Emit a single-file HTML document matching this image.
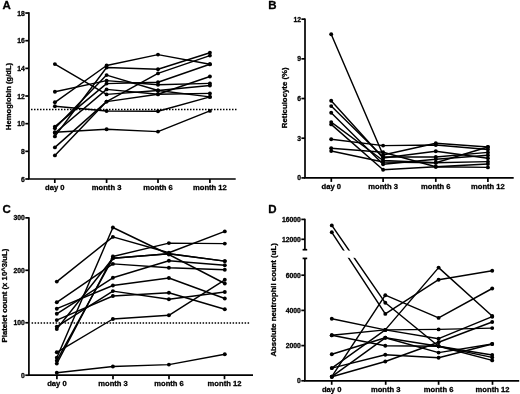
<!DOCTYPE html>
<html><head><meta charset="utf-8"><style>
html,body{margin:0;padding:0;background:#fff;}
svg{display:block;will-change:transform;}
text{font-family:"Liberation Sans",sans-serif;font-weight:bold;fill:#000;}
</style></head><body>
<svg width="520" height="394" viewBox="0 0 520 394" stroke="#000">
<g stroke="#000" fill="none">
<text stroke="#000" stroke-width="0.3" stroke-linejoin="round" x="2.60" y="9.20" text-anchor="start" font-size="11.5" >A</text>
<line x1="28.90" y1="12.20" x2="28.90" y2="179.00" stroke-width="1.7" />
<line x1="28.05" y1="179.00" x2="235.70" y2="179.00" stroke-width="1.7" />
<line x1="54.80" y1="179.00" x2="54.80" y2="183.00" stroke-width="1.7" />
<text stroke="#000" stroke-width="0.3" stroke-linejoin="round" x="54.80" y="190.00" text-anchor="middle" font-size="7.6" >day 0</text>
<line x1="106.60" y1="179.00" x2="106.60" y2="183.00" stroke-width="1.7" />
<text stroke="#000" stroke-width="0.3" stroke-linejoin="round" x="106.60" y="190.00" text-anchor="middle" font-size="7.6" >month 3</text>
<line x1="158.00" y1="179.00" x2="158.00" y2="183.00" stroke-width="1.7" />
<text stroke="#000" stroke-width="0.3" stroke-linejoin="round" x="158.00" y="190.00" text-anchor="middle" font-size="7.6" >month 6</text>
<line x1="209.90" y1="179.00" x2="209.90" y2="183.00" stroke-width="1.7" />
<text stroke="#000" stroke-width="0.3" stroke-linejoin="round" x="209.90" y="190.00" text-anchor="middle" font-size="7.6" >month 12</text>
<line x1="25.30" y1="179.00" x2="28.90" y2="179.00" stroke-width="1.7" />
<text stroke="#000" stroke-width="0.3" stroke-linejoin="round" x="24.90" y="181.55" text-anchor="end" font-size="6.8" >6</text>
<line x1="25.30" y1="151.34" x2="28.90" y2="151.34" stroke-width="1.7" />
<text stroke="#000" stroke-width="0.3" stroke-linejoin="round" x="24.90" y="153.89" text-anchor="end" font-size="6.8" >8</text>
<line x1="25.30" y1="123.68" x2="28.90" y2="123.68" stroke-width="1.7" />
<text stroke="#000" stroke-width="0.3" stroke-linejoin="round" x="24.90" y="126.23" text-anchor="end" font-size="6.8" >10</text>
<line x1="25.30" y1="96.02" x2="28.90" y2="96.02" stroke-width="1.7" />
<text stroke="#000" stroke-width="0.3" stroke-linejoin="round" x="24.90" y="98.57" text-anchor="end" font-size="6.8" >12</text>
<line x1="25.30" y1="68.36" x2="28.90" y2="68.36" stroke-width="1.7" />
<text stroke="#000" stroke-width="0.3" stroke-linejoin="round" x="24.90" y="70.91" text-anchor="end" font-size="6.8" >14</text>
<line x1="25.30" y1="40.70" x2="28.90" y2="40.70" stroke-width="1.7" />
<text stroke="#000" stroke-width="0.3" stroke-linejoin="round" x="24.90" y="43.25" text-anchor="end" font-size="6.8" >16</text>
<line x1="25.30" y1="13.04" x2="28.90" y2="13.04" stroke-width="1.7" />
<text stroke="#000" stroke-width="0.3" stroke-linejoin="round" x="24.90" y="15.59" text-anchor="end" font-size="6.8" >18</text>
<text stroke="#000" stroke-width="0.3" stroke-linejoin="round" transform="translate(10.7,96.4) rotate(-90)" text-anchor="middle" font-size="7.6">Hemoglobin (g/dL)</text>
<text stroke="#000" stroke-width="0.3" stroke-linejoin="round" x="268.30" y="9.00" text-anchor="start" font-size="11.5" >B</text>
<line x1="305.00" y1="18.44" x2="305.00" y2="177.90" stroke-width="1.7" />
<line x1="304.15" y1="177.90" x2="513.70" y2="177.90" stroke-width="1.7" />
<line x1="331.30" y1="177.90" x2="331.30" y2="181.90" stroke-width="1.7" />
<text stroke="#000" stroke-width="0.3" stroke-linejoin="round" x="331.30" y="189.00" text-anchor="middle" font-size="7.6" >day 0</text>
<line x1="383.10" y1="177.90" x2="383.10" y2="181.90" stroke-width="1.7" />
<text stroke="#000" stroke-width="0.3" stroke-linejoin="round" x="383.10" y="189.00" text-anchor="middle" font-size="7.6" >month 3</text>
<line x1="435.80" y1="177.90" x2="435.80" y2="181.90" stroke-width="1.7" />
<text stroke="#000" stroke-width="0.3" stroke-linejoin="round" x="435.80" y="189.00" text-anchor="middle" font-size="7.6" >month 6</text>
<line x1="487.90" y1="177.90" x2="487.90" y2="181.90" stroke-width="1.7" />
<text stroke="#000" stroke-width="0.3" stroke-linejoin="round" x="487.90" y="189.00" text-anchor="middle" font-size="7.6" >month 12</text>
<line x1="301.40" y1="177.90" x2="305.00" y2="177.90" stroke-width="1.7" />
<text stroke="#000" stroke-width="0.3" stroke-linejoin="round" x="301.00" y="180.45" text-anchor="end" font-size="6.8" >0</text>
<line x1="301.40" y1="138.21" x2="305.00" y2="138.21" stroke-width="1.7" />
<text stroke="#000" stroke-width="0.3" stroke-linejoin="round" x="301.00" y="140.76" text-anchor="end" font-size="6.8" >3</text>
<line x1="301.40" y1="98.52" x2="305.00" y2="98.52" stroke-width="1.7" />
<text stroke="#000" stroke-width="0.3" stroke-linejoin="round" x="301.00" y="101.07" text-anchor="end" font-size="6.8" >6</text>
<line x1="301.40" y1="58.83" x2="305.00" y2="58.83" stroke-width="1.7" />
<text stroke="#000" stroke-width="0.3" stroke-linejoin="round" x="301.00" y="61.38" text-anchor="end" font-size="6.8" >9</text>
<line x1="301.40" y1="19.14" x2="305.00" y2="19.14" stroke-width="1.7" />
<text stroke="#000" stroke-width="0.3" stroke-linejoin="round" x="301.00" y="21.69" text-anchor="end" font-size="6.8" >12</text>
<text stroke="#000" stroke-width="0.3" stroke-linejoin="round" transform="translate(287.2,97.8) rotate(-90)" text-anchor="middle" font-size="7.8">Reticulocyte (%)</text>
<text stroke="#000" stroke-width="0.3" stroke-linejoin="round" x="2.40" y="212.80" text-anchor="start" font-size="11.5" >C</text>
<line x1="28.90" y1="217.15" x2="28.90" y2="375.20" stroke-width="1.7" />
<line x1="28.05" y1="375.20" x2="253.00" y2="375.20" stroke-width="1.7" />
<line x1="56.90" y1="375.20" x2="56.90" y2="379.20" stroke-width="1.7" />
<text stroke="#000" stroke-width="0.3" stroke-linejoin="round" x="56.90" y="386.10" text-anchor="middle" font-size="7.6" >day 0</text>
<line x1="113.00" y1="375.20" x2="113.00" y2="379.20" stroke-width="1.7" />
<text stroke="#000" stroke-width="0.3" stroke-linejoin="round" x="113.00" y="386.10" text-anchor="middle" font-size="7.6" >month 3</text>
<line x1="169.00" y1="375.20" x2="169.00" y2="379.20" stroke-width="1.7" />
<text stroke="#000" stroke-width="0.3" stroke-linejoin="round" x="169.00" y="386.10" text-anchor="middle" font-size="7.6" >month 6</text>
<line x1="224.50" y1="375.20" x2="224.50" y2="379.20" stroke-width="1.7" />
<text stroke="#000" stroke-width="0.3" stroke-linejoin="round" x="224.50" y="386.10" text-anchor="middle" font-size="7.6" >month 12</text>
<line x1="25.30" y1="375.20" x2="28.90" y2="375.20" stroke-width="1.7" />
<text stroke="#000" stroke-width="0.3" stroke-linejoin="round" x="24.90" y="377.75" text-anchor="end" font-size="6.8" >0</text>
<line x1="25.30" y1="322.75" x2="28.90" y2="322.75" stroke-width="1.7" />
<text stroke="#000" stroke-width="0.3" stroke-linejoin="round" x="24.90" y="325.30" text-anchor="end" font-size="6.8" >100</text>
<line x1="25.30" y1="270.30" x2="28.90" y2="270.30" stroke-width="1.7" />
<text stroke="#000" stroke-width="0.3" stroke-linejoin="round" x="24.90" y="272.85" text-anchor="end" font-size="6.8" >200</text>
<line x1="25.30" y1="217.85" x2="28.90" y2="217.85" stroke-width="1.7" />
<text stroke="#000" stroke-width="0.3" stroke-linejoin="round" x="24.90" y="220.40" text-anchor="end" font-size="6.8" >300</text>
<text stroke="#000" stroke-width="0.3" stroke-linejoin="round" transform="translate(6.6,295.6) rotate(-90)" text-anchor="middle" font-size="7.75">Platelet count (x 10^3/uL)</text>
<text stroke="#000" stroke-width="0.3" stroke-linejoin="round" x="268.30" y="212.80" text-anchor="start" font-size="11.5" >D</text>
<line x1="304.90" y1="218.70" x2="304.90" y2="249.70" stroke-width="1.7" />
<line x1="304.90" y1="258.40" x2="304.90" y2="380.80" stroke-width="1.7" />
<line x1="302.60" y1="249.70" x2="307.20" y2="249.70" stroke-width="1.7" />
<line x1="302.60" y1="258.40" x2="307.20" y2="258.40" stroke-width="1.7" />
<line x1="304.05" y1="380.80" x2="519.20" y2="380.80" stroke-width="1.7" />
<line x1="331.70" y1="380.80" x2="331.70" y2="384.80" stroke-width="1.7" />
<text stroke="#000" stroke-width="0.3" stroke-linejoin="round" x="331.70" y="391.60" text-anchor="middle" font-size="7.6" >day 0</text>
<line x1="385.70" y1="380.80" x2="385.70" y2="384.80" stroke-width="1.7" />
<text stroke="#000" stroke-width="0.3" stroke-linejoin="round" x="385.70" y="391.60" text-anchor="middle" font-size="7.6" >month 3</text>
<line x1="438.60" y1="380.80" x2="438.60" y2="384.80" stroke-width="1.7" />
<text stroke="#000" stroke-width="0.3" stroke-linejoin="round" x="438.60" y="391.60" text-anchor="middle" font-size="7.6" >month 6</text>
<line x1="492.50" y1="380.80" x2="492.50" y2="384.80" stroke-width="1.7" />
<text stroke="#000" stroke-width="0.3" stroke-linejoin="round" x="492.50" y="391.60" text-anchor="middle" font-size="7.6" >month 12</text>
<line x1="301.30" y1="219.40" x2="304.90" y2="219.40" stroke-width="1.7" />
<text stroke="#000" stroke-width="0.3" stroke-linejoin="round" x="300.90" y="221.95" text-anchor="end" font-size="6.8" >16000</text>
<line x1="301.30" y1="239.30" x2="304.90" y2="239.30" stroke-width="1.7" />
<text stroke="#000" stroke-width="0.3" stroke-linejoin="round" x="300.90" y="241.85" text-anchor="end" font-size="6.8" >12000</text>
<line x1="301.30" y1="275.20" x2="304.90" y2="275.20" stroke-width="1.7" />
<text stroke="#000" stroke-width="0.3" stroke-linejoin="round" x="300.90" y="277.75" text-anchor="end" font-size="6.8" >6000</text>
<line x1="301.30" y1="310.40" x2="304.90" y2="310.40" stroke-width="1.7" />
<text stroke="#000" stroke-width="0.3" stroke-linejoin="round" x="300.90" y="312.95" text-anchor="end" font-size="6.8" >4000</text>
<line x1="301.30" y1="345.60" x2="304.90" y2="345.60" stroke-width="1.7" />
<text stroke="#000" stroke-width="0.3" stroke-linejoin="round" x="300.90" y="348.15" text-anchor="end" font-size="6.8" >2000</text>
<line x1="301.30" y1="380.80" x2="304.90" y2="380.80" stroke-width="1.7" />
<text stroke="#000" stroke-width="0.3" stroke-linejoin="round" x="300.90" y="383.35" text-anchor="end" font-size="6.8" >0</text>
<text stroke="#000" stroke-width="0.3" stroke-linejoin="round" transform="translate(276.2,299.9) rotate(-90)" text-anchor="middle" font-size="7.75">Absolute neutrophil count (uL)</text>
<line x1="31.0" y1="109.45" x2="236.8" y2="109.45" stroke-width="1.5" stroke-dasharray="1.5 1.5"/>
<line x1="31.6" y1="322.9" x2="249.5" y2="322.9" stroke-width="1.5" stroke-dasharray="1.5 1.5"/>
<polyline points="54.9,64.1 106.6,94.4 158.0,90.5 209.9,85.5" fill="none" stroke-width="1.45" stroke-linejoin="round"/>
<circle cx="54.9" cy="64.1" r="1.95" stroke="none" fill="#000"/>
<circle cx="106.6" cy="94.4" r="1.95" stroke="none" fill="#000"/>
<circle cx="158.0" cy="90.5" r="1.95" stroke="none" fill="#000"/>
<circle cx="209.9" cy="85.5" r="1.95" stroke="none" fill="#000"/>
<polyline points="54.9,91.8 106.6,80.6 158.0,84.8 209.9,83.4" fill="none" stroke-width="1.45" stroke-linejoin="round"/>
<circle cx="54.9" cy="91.8" r="1.95" stroke="none" fill="#000"/>
<circle cx="106.6" cy="80.6" r="1.95" stroke="none" fill="#000"/>
<circle cx="158.0" cy="84.8" r="1.95" stroke="none" fill="#000"/>
<circle cx="209.9" cy="83.4" r="1.95" stroke="none" fill="#000"/>
<polyline points="54.9,102.3 106.6,65.5 158.0,54.6 209.9,64.3" fill="none" stroke-width="1.45" stroke-linejoin="round"/>
<circle cx="54.9" cy="102.3" r="1.95" stroke="none" fill="#000"/>
<circle cx="106.6" cy="65.5" r="1.95" stroke="none" fill="#000"/>
<circle cx="158.0" cy="54.6" r="1.95" stroke="none" fill="#000"/>
<circle cx="209.9" cy="64.3" r="1.95" stroke="none" fill="#000"/>
<polyline points="54.9,106.3 106.6,111.0 158.0,111.3 209.9,96.9" fill="none" stroke-width="1.45" stroke-linejoin="round"/>
<circle cx="54.9" cy="106.3" r="1.95" stroke="none" fill="#000"/>
<circle cx="106.6" cy="111.0" r="1.95" stroke="none" fill="#000"/>
<circle cx="158.0" cy="111.3" r="1.95" stroke="none" fill="#000"/>
<circle cx="209.9" cy="96.9" r="1.95" stroke="none" fill="#000"/>
<polyline points="54.9,132.2 106.6,129.3 158.0,131.6 209.9,110.9" fill="none" stroke-width="1.45" stroke-linejoin="round"/>
<circle cx="54.9" cy="132.2" r="1.95" stroke="none" fill="#000"/>
<circle cx="106.6" cy="129.3" r="1.95" stroke="none" fill="#000"/>
<circle cx="158.0" cy="131.6" r="1.95" stroke="none" fill="#000"/>
<circle cx="209.9" cy="110.9" r="1.95" stroke="none" fill="#000"/>
<polyline points="54.9,147.4 106.6,101.6 158.0,73.4 209.9,55.6" fill="none" stroke-width="1.45" stroke-linejoin="round"/>
<circle cx="54.9" cy="147.4" r="1.95" stroke="none" fill="#000"/>
<circle cx="106.6" cy="101.6" r="1.95" stroke="none" fill="#000"/>
<circle cx="158.0" cy="73.4" r="1.95" stroke="none" fill="#000"/>
<circle cx="209.9" cy="55.6" r="1.95" stroke="none" fill="#000"/>
<polyline points="54.9,155.4 106.6,101.6 158.0,94.2 209.9,76.5" fill="none" stroke-width="1.45" stroke-linejoin="round"/>
<circle cx="54.9" cy="155.4" r="1.95" stroke="none" fill="#000"/>
<circle cx="106.6" cy="101.6" r="1.95" stroke="none" fill="#000"/>
<circle cx="158.0" cy="94.2" r="1.95" stroke="none" fill="#000"/>
<circle cx="209.9" cy="76.5" r="1.95" stroke="none" fill="#000"/>
<polyline points="54.9,136.4 106.6,67.5 158.0,69.2 209.9,52.8" fill="none" stroke-width="1.45" stroke-linejoin="round"/>
<circle cx="54.9" cy="136.4" r="1.95" stroke="none" fill="#000"/>
<circle cx="106.6" cy="67.5" r="1.95" stroke="none" fill="#000"/>
<circle cx="158.0" cy="69.2" r="1.95" stroke="none" fill="#000"/>
<circle cx="209.9" cy="52.8" r="1.95" stroke="none" fill="#000"/>
<polyline points="54.9,126.6 106.6,83.6 158.0,82.3 209.9,64.3" fill="none" stroke-width="1.45" stroke-linejoin="round"/>
<circle cx="54.9" cy="126.6" r="1.95" stroke="none" fill="#000"/>
<circle cx="106.6" cy="83.6" r="1.95" stroke="none" fill="#000"/>
<circle cx="158.0" cy="82.3" r="1.95" stroke="none" fill="#000"/>
<circle cx="209.9" cy="64.3" r="1.95" stroke="none" fill="#000"/>
<polyline points="54.9,128.3 106.6,75.1 158.0,90.5 209.9,96.9" fill="none" stroke-width="1.45" stroke-linejoin="round"/>
<circle cx="54.9" cy="128.3" r="1.95" stroke="none" fill="#000"/>
<circle cx="106.6" cy="75.1" r="1.95" stroke="none" fill="#000"/>
<circle cx="158.0" cy="90.5" r="1.95" stroke="none" fill="#000"/>
<circle cx="209.9" cy="96.9" r="1.95" stroke="none" fill="#000"/>
<polyline points="54.9,133.0 106.6,89.4 158.0,94.2 209.9,93.4" fill="none" stroke-width="1.45" stroke-linejoin="round"/>
<circle cx="54.9" cy="133.0" r="1.95" stroke="none" fill="#000"/>
<circle cx="106.6" cy="89.4" r="1.95" stroke="none" fill="#000"/>
<circle cx="158.0" cy="94.2" r="1.95" stroke="none" fill="#000"/>
<circle cx="209.9" cy="93.4" r="1.95" stroke="none" fill="#000"/>
<polyline points="331.2,34.3 383.1,155.0 435.8,143.2 487.9,147.0" fill="none" stroke-width="1.45" stroke-linejoin="round"/>
<circle cx="331.2" cy="34.3" r="1.95" stroke="none" fill="#000"/>
<circle cx="383.1" cy="155.0" r="1.95" stroke="none" fill="#000"/>
<circle cx="435.8" cy="143.2" r="1.95" stroke="none" fill="#000"/>
<circle cx="487.9" cy="147.0" r="1.95" stroke="none" fill="#000"/>
<polyline points="331.2,100.8 383.1,158.0 435.8,151.3 487.9,158.2" fill="none" stroke-width="1.45" stroke-linejoin="round"/>
<circle cx="331.2" cy="100.8" r="1.95" stroke="none" fill="#000"/>
<circle cx="383.1" cy="158.0" r="1.95" stroke="none" fill="#000"/>
<circle cx="435.8" cy="151.3" r="1.95" stroke="none" fill="#000"/>
<circle cx="487.9" cy="158.2" r="1.95" stroke="none" fill="#000"/>
<polyline points="331.2,106.1 383.1,157.0 435.8,157.0 487.9,152.4" fill="none" stroke-width="1.45" stroke-linejoin="round"/>
<circle cx="331.2" cy="106.1" r="1.95" stroke="none" fill="#000"/>
<circle cx="383.1" cy="157.0" r="1.95" stroke="none" fill="#000"/>
<circle cx="435.8" cy="157.0" r="1.95" stroke="none" fill="#000"/>
<circle cx="487.9" cy="152.4" r="1.95" stroke="none" fill="#000"/>
<polyline points="331.2,112.8 383.1,164.3 435.8,159.3 487.9,155.3" fill="none" stroke-width="1.45" stroke-linejoin="round"/>
<circle cx="331.2" cy="112.8" r="1.95" stroke="none" fill="#000"/>
<circle cx="383.1" cy="164.3" r="1.95" stroke="none" fill="#000"/>
<circle cx="435.8" cy="159.3" r="1.95" stroke="none" fill="#000"/>
<circle cx="487.9" cy="155.3" r="1.95" stroke="none" fill="#000"/>
<polyline points="331.2,122.1 383.1,160.5 435.8,162.8 487.9,161.6" fill="none" stroke-width="1.45" stroke-linejoin="round"/>
<circle cx="331.2" cy="122.1" r="1.95" stroke="none" fill="#000"/>
<circle cx="383.1" cy="160.5" r="1.95" stroke="none" fill="#000"/>
<circle cx="435.8" cy="162.8" r="1.95" stroke="none" fill="#000"/>
<circle cx="487.9" cy="161.6" r="1.95" stroke="none" fill="#000"/>
<polyline points="331.2,124.4 383.1,169.8 435.8,166.8 487.9,167.4" fill="none" stroke-width="1.45" stroke-linejoin="round"/>
<circle cx="331.2" cy="124.4" r="1.95" stroke="none" fill="#000"/>
<circle cx="383.1" cy="169.8" r="1.95" stroke="none" fill="#000"/>
<circle cx="435.8" cy="166.8" r="1.95" stroke="none" fill="#000"/>
<circle cx="487.9" cy="167.4" r="1.95" stroke="none" fill="#000"/>
<polyline points="331.2,139.2 383.1,145.6 435.8,145.0 487.9,149.5" fill="none" stroke-width="1.45" stroke-linejoin="round"/>
<circle cx="331.2" cy="139.2" r="1.95" stroke="none" fill="#000"/>
<circle cx="383.1" cy="145.6" r="1.95" stroke="none" fill="#000"/>
<circle cx="435.8" cy="145.0" r="1.95" stroke="none" fill="#000"/>
<circle cx="487.9" cy="149.5" r="1.95" stroke="none" fill="#000"/>
<polyline points="331.2,148.3 383.1,152.2 435.8,166.8 487.9,164.0" fill="none" stroke-width="1.45" stroke-linejoin="round"/>
<circle cx="331.2" cy="148.3" r="1.95" stroke="none" fill="#000"/>
<circle cx="383.1" cy="152.2" r="1.95" stroke="none" fill="#000"/>
<circle cx="435.8" cy="166.8" r="1.95" stroke="none" fill="#000"/>
<circle cx="487.9" cy="164.0" r="1.95" stroke="none" fill="#000"/>
<polyline points="331.2,151.0 383.1,162.0 435.8,162.8 487.9,147.0" fill="none" stroke-width="1.45" stroke-linejoin="round"/>
<circle cx="331.2" cy="151.0" r="1.95" stroke="none" fill="#000"/>
<circle cx="383.1" cy="162.0" r="1.95" stroke="none" fill="#000"/>
<circle cx="435.8" cy="162.8" r="1.95" stroke="none" fill="#000"/>
<circle cx="487.9" cy="147.0" r="1.95" stroke="none" fill="#000"/>
<polyline points="56.8,281.6 112.9,236.9 168.9,252.8 224.8,231.4" fill="none" stroke-width="1.45" stroke-linejoin="round"/>
<circle cx="56.8" cy="281.6" r="1.95" stroke="none" fill="#000"/>
<circle cx="112.9" cy="236.9" r="1.95" stroke="none" fill="#000"/>
<circle cx="168.9" cy="252.8" r="1.95" stroke="none" fill="#000"/>
<circle cx="224.8" cy="231.4" r="1.95" stroke="none" fill="#000"/>
<polyline points="56.8,357.8 112.9,227.5 168.9,254.5 224.8,283.5" fill="none" stroke-width="1.45" stroke-linejoin="round"/>
<circle cx="56.8" cy="357.8" r="1.95" stroke="none" fill="#000"/>
<circle cx="112.9" cy="227.5" r="1.95" stroke="none" fill="#000"/>
<circle cx="168.9" cy="254.5" r="1.95" stroke="none" fill="#000"/>
<circle cx="224.8" cy="283.5" r="1.95" stroke="none" fill="#000"/>
<polyline points="56.8,363.6 112.9,256.5 168.9,243.1 224.8,243.6" fill="none" stroke-width="1.45" stroke-linejoin="round"/>
<circle cx="56.8" cy="363.6" r="1.95" stroke="none" fill="#000"/>
<circle cx="112.9" cy="256.5" r="1.95" stroke="none" fill="#000"/>
<circle cx="168.9" cy="243.1" r="1.95" stroke="none" fill="#000"/>
<circle cx="224.8" cy="243.6" r="1.95" stroke="none" fill="#000"/>
<polyline points="56.8,329.0 112.9,258.3 168.9,253.7 224.8,261.1" fill="none" stroke-width="1.45" stroke-linejoin="round"/>
<circle cx="56.8" cy="329.0" r="1.95" stroke="none" fill="#000"/>
<circle cx="112.9" cy="258.3" r="1.95" stroke="none" fill="#000"/>
<circle cx="168.9" cy="253.7" r="1.95" stroke="none" fill="#000"/>
<circle cx="224.8" cy="261.1" r="1.95" stroke="none" fill="#000"/>
<polyline points="56.8,302.3 112.9,263.9 168.9,267.8 224.8,269.7" fill="none" stroke-width="1.45" stroke-linejoin="round"/>
<circle cx="56.8" cy="302.3" r="1.95" stroke="none" fill="#000"/>
<circle cx="112.9" cy="263.9" r="1.95" stroke="none" fill="#000"/>
<circle cx="168.9" cy="267.8" r="1.95" stroke="none" fill="#000"/>
<circle cx="224.8" cy="269.7" r="1.95" stroke="none" fill="#000"/>
<polyline points="56.8,313.8 112.9,277.8 168.9,260.8 224.8,265.2" fill="none" stroke-width="1.45" stroke-linejoin="round"/>
<circle cx="56.8" cy="313.8" r="1.95" stroke="none" fill="#000"/>
<circle cx="112.9" cy="277.8" r="1.95" stroke="none" fill="#000"/>
<circle cx="168.9" cy="260.8" r="1.95" stroke="none" fill="#000"/>
<circle cx="224.8" cy="265.2" r="1.95" stroke="none" fill="#000"/>
<polyline points="56.8,308.7 112.9,285.5 168.9,278.0 224.8,298.5" fill="none" stroke-width="1.45" stroke-linejoin="round"/>
<circle cx="56.8" cy="308.7" r="1.95" stroke="none" fill="#000"/>
<circle cx="112.9" cy="285.5" r="1.95" stroke="none" fill="#000"/>
<circle cx="168.9" cy="278.0" r="1.95" stroke="none" fill="#000"/>
<circle cx="224.8" cy="298.5" r="1.95" stroke="none" fill="#000"/>
<polyline points="56.8,326.6 112.9,291.1 168.9,299.3 224.8,292.0" fill="none" stroke-width="1.45" stroke-linejoin="round"/>
<circle cx="56.8" cy="326.6" r="1.95" stroke="none" fill="#000"/>
<circle cx="112.9" cy="291.1" r="1.95" stroke="none" fill="#000"/>
<circle cx="168.9" cy="299.3" r="1.95" stroke="none" fill="#000"/>
<circle cx="224.8" cy="292.0" r="1.95" stroke="none" fill="#000"/>
<polyline points="56.8,320.1 112.9,296.0 168.9,292.7 224.8,309.2" fill="none" stroke-width="1.45" stroke-linejoin="round"/>
<circle cx="56.8" cy="320.1" r="1.95" stroke="none" fill="#000"/>
<circle cx="112.9" cy="296.0" r="1.95" stroke="none" fill="#000"/>
<circle cx="168.9" cy="292.7" r="1.95" stroke="none" fill="#000"/>
<circle cx="224.8" cy="309.2" r="1.95" stroke="none" fill="#000"/>
<polyline points="56.8,352.3 112.9,319.0 168.9,315.3 224.8,279.8" fill="none" stroke-width="1.45" stroke-linejoin="round"/>
<circle cx="56.8" cy="352.3" r="1.95" stroke="none" fill="#000"/>
<circle cx="112.9" cy="319.0" r="1.95" stroke="none" fill="#000"/>
<circle cx="168.9" cy="315.3" r="1.95" stroke="none" fill="#000"/>
<circle cx="224.8" cy="279.8" r="1.95" stroke="none" fill="#000"/>
<polyline points="56.8,360.7 112.9,258.3 168.9,253.7 224.8,261.1" fill="none" stroke-width="1.45" stroke-linejoin="round"/>
<circle cx="56.8" cy="360.7" r="1.95" stroke="none" fill="#000"/>
<circle cx="112.9" cy="258.3" r="1.95" stroke="none" fill="#000"/>
<circle cx="168.9" cy="253.7" r="1.95" stroke="none" fill="#000"/>
<circle cx="224.8" cy="261.1" r="1.95" stroke="none" fill="#000"/>
<polyline points="56.8,372.8 112.9,366.5 168.9,364.6 224.8,354.3" fill="none" stroke-width="1.45" stroke-linejoin="round"/>
<circle cx="56.8" cy="372.8" r="1.95" stroke="none" fill="#000"/>
<circle cx="112.9" cy="366.5" r="1.95" stroke="none" fill="#000"/>
<circle cx="168.9" cy="364.6" r="1.95" stroke="none" fill="#000"/>
<circle cx="224.8" cy="354.3" r="1.95" stroke="none" fill="#000"/>
<polyline points="331.8,225.4 385.3,302.8 438.6,346.3 492.2,360.4" fill="none" stroke-width="1.45" stroke-linejoin="round"/>
<circle cx="331.8" cy="225.4" r="1.95" stroke="none" fill="#000"/>
<circle cx="385.3" cy="302.8" r="1.95" stroke="none" fill="#000"/>
<circle cx="438.6" cy="346.3" r="1.95" stroke="none" fill="#000"/>
<circle cx="492.2" cy="360.4" r="1.95" stroke="none" fill="#000"/>
<polyline points="331.8,232.3 385.3,313.9 438.6,279.7 492.2,270.7" fill="none" stroke-width="1.45" stroke-linejoin="round"/>
<circle cx="331.8" cy="232.3" r="1.95" stroke="none" fill="#000"/>
<circle cx="385.3" cy="313.9" r="1.95" stroke="none" fill="#000"/>
<circle cx="438.6" cy="279.7" r="1.95" stroke="none" fill="#000"/>
<circle cx="492.2" cy="270.7" r="1.95" stroke="none" fill="#000"/>
<polyline points="331.8,376.7 385.3,295.2 438.6,317.9 492.2,288.5" fill="none" stroke-width="1.45" stroke-linejoin="round"/>
<circle cx="331.8" cy="376.7" r="1.95" stroke="none" fill="#000"/>
<circle cx="385.3" cy="295.2" r="1.95" stroke="none" fill="#000"/>
<circle cx="438.6" cy="317.9" r="1.95" stroke="none" fill="#000"/>
<circle cx="492.2" cy="288.5" r="1.95" stroke="none" fill="#000"/>
<polyline points="331.8,368.1 385.3,329.9 438.6,267.6 492.2,316.0" fill="none" stroke-width="1.45" stroke-linejoin="round"/>
<circle cx="331.8" cy="368.1" r="1.95" stroke="none" fill="#000"/>
<circle cx="385.3" cy="329.9" r="1.95" stroke="none" fill="#000"/>
<circle cx="438.6" cy="267.6" r="1.95" stroke="none" fill="#000"/>
<circle cx="492.2" cy="316.0" r="1.95" stroke="none" fill="#000"/>
<polyline points="331.8,318.8 385.3,329.9 438.6,329.4 492.2,328.1" fill="none" stroke-width="1.45" stroke-linejoin="round"/>
<circle cx="331.8" cy="318.8" r="1.95" stroke="none" fill="#000"/>
<circle cx="385.3" cy="329.9" r="1.95" stroke="none" fill="#000"/>
<circle cx="438.6" cy="329.4" r="1.95" stroke="none" fill="#000"/>
<circle cx="492.2" cy="328.1" r="1.95" stroke="none" fill="#000"/>
<polyline points="331.8,335.2 385.3,329.9 438.6,338.7 492.2,316.7" fill="none" stroke-width="1.45" stroke-linejoin="round"/>
<circle cx="331.8" cy="335.2" r="1.95" stroke="none" fill="#000"/>
<circle cx="385.3" cy="329.9" r="1.95" stroke="none" fill="#000"/>
<circle cx="438.6" cy="338.7" r="1.95" stroke="none" fill="#000"/>
<circle cx="492.2" cy="316.7" r="1.95" stroke="none" fill="#000"/>
<polyline points="331.8,335.2 385.3,345.7 438.6,346.3 492.2,357.4" fill="none" stroke-width="1.45" stroke-linejoin="round"/>
<circle cx="331.8" cy="335.2" r="1.95" stroke="none" fill="#000"/>
<circle cx="385.3" cy="345.7" r="1.95" stroke="none" fill="#000"/>
<circle cx="438.6" cy="346.3" r="1.95" stroke="none" fill="#000"/>
<circle cx="492.2" cy="357.4" r="1.95" stroke="none" fill="#000"/>
<polyline points="331.8,354.2 385.3,337.8 438.6,346.3 492.2,355.0" fill="none" stroke-width="1.45" stroke-linejoin="round"/>
<circle cx="331.8" cy="354.2" r="1.95" stroke="none" fill="#000"/>
<circle cx="385.3" cy="337.8" r="1.95" stroke="none" fill="#000"/>
<circle cx="438.6" cy="346.3" r="1.95" stroke="none" fill="#000"/>
<circle cx="492.2" cy="355.0" r="1.95" stroke="none" fill="#000"/>
<polyline points="331.8,368.1 385.3,354.8 438.6,357.8 492.2,344.0" fill="none" stroke-width="1.45" stroke-linejoin="round"/>
<circle cx="331.8" cy="368.1" r="1.95" stroke="none" fill="#000"/>
<circle cx="385.3" cy="354.8" r="1.95" stroke="none" fill="#000"/>
<circle cx="438.6" cy="357.8" r="1.95" stroke="none" fill="#000"/>
<circle cx="492.2" cy="344.0" r="1.95" stroke="none" fill="#000"/>
<polyline points="331.8,376.7 385.3,361.5 438.6,342.3 492.2,322.0" fill="none" stroke-width="1.45" stroke-linejoin="round"/>
<circle cx="331.8" cy="376.7" r="1.95" stroke="none" fill="#000"/>
<circle cx="385.3" cy="361.5" r="1.95" stroke="none" fill="#000"/>
<circle cx="438.6" cy="342.3" r="1.95" stroke="none" fill="#000"/>
<circle cx="492.2" cy="322.0" r="1.95" stroke="none" fill="#000"/>
<polyline points="331.8,376.7 385.3,337.8 438.6,352.6 492.2,344.0" fill="none" stroke-width="1.45" stroke-linejoin="round"/>
<circle cx="331.8" cy="376.7" r="1.95" stroke="none" fill="#000"/>
<circle cx="385.3" cy="337.8" r="1.95" stroke="none" fill="#000"/>
<circle cx="438.6" cy="352.6" r="1.95" stroke="none" fill="#000"/>
<circle cx="492.2" cy="344.0" r="1.95" stroke="none" fill="#000"/>
<rect x="308" y="250.6" width="212" height="7.2" fill="#fff" stroke="none"/>
</g>
</svg>
</body></html>
